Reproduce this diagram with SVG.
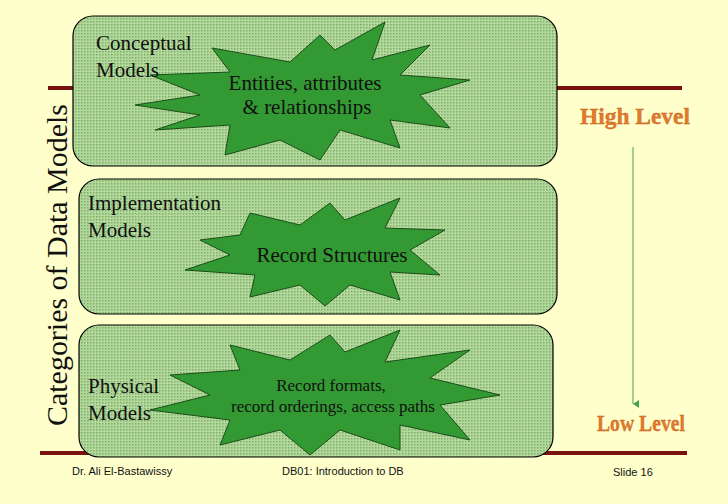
<svg xmlns="http://www.w3.org/2000/svg" width="728" height="504" viewBox="0 0 728 504">
<style>
.box{fill:#a9d393;stroke:#000;stroke-width:1.2}
.star{fill:#339a33;stroke:#1a4d1a;stroke-width:1}
.t{font-family:"Liberation Serif",serif;fill:#111}
.lv{font-family:"Liberation Serif",serif;font-size:23px;font-weight:bold;fill:#e07a30;stroke:#c05a10;stroke-width:0.3}
.ft{font-family:"Liberation Sans",sans-serif;font-size:11px;fill:#111}
</style>
<defs>
<pattern id="h" width="3" height="3" patternUnits="userSpaceOnUse"><rect width="3" height="3" fill="#b3d99c"/><rect width="1.5" height="1.5" fill="#7fae6a"/></pattern>
<marker id="a" markerWidth="8" markerHeight="8" refX="4" refY="6" orient="auto" markerUnits="userSpaceOnUse"><path d="M0,0 L8,0 L4,6 Z" fill="#4aa04a"/></marker>
</defs>
<rect width="728" height="504" fill="#ffffcc"/>
<g id="rules">
<line x1="48" y1="88" x2="682" y2="88" stroke="#7a1010" stroke-width="4"/>
<line x1="40" y1="453" x2="687" y2="453" stroke="#7a1010" stroke-width="4"/>
</g>
<text class="t" font-size="30" transform="translate(67,265) rotate(-90)" text-anchor="middle" textLength="322" lengthAdjust="spacingAndGlyphs">Categories of Data Models</text>
<g id="conceptual">
<rect class="box" x="73" y="16" width="484" height="150" rx="20" style="fill:url(#h)"/>
<polygon class="star" points="212,48 290,62 320,35 335,50 385,22 372,60 430,45 400,75 470,80 420,95 450,128 390,120 400,148 340,130 320,160 280,140 225,155 230,125 155,130 200,115 135,105 200,95 150,75 230,72"/>
<text class="t" font-size="21" x="96" y="50">Conceptual</text>
<text class="t" font-size="21" x="96" y="77">Models</text>
<text class="t" font-size="21" x="305" y="90" text-anchor="middle">Entities, attributes</text>
<text class="t" font-size="21" x="307" y="114" text-anchor="middle">&amp; relationships</text>
</g>
<g id="implementation">
<rect class="box" x="79" y="179" width="478" height="135" rx="20" style="fill:url(#h)"/>
<polygon class="star" points="250,213 300,225 330,203 345,220 400,198 385,228 445,230 410,250 440,275 390,272 400,300 350,285 325,306 300,285 250,297 255,275 185,270 230,255 200,240 240,235"/>
<text class="t" font-size="21" x="88" y="210">Implementation</text>
<text class="t" font-size="21" x="88" y="237">Models</text>
<text class="t" font-size="21" x="332" y="262" text-anchor="middle">Record Structures</text>
</g>
<g id="physical">
<rect class="box" x="79" y="325" width="474" height="132" rx="20" style="fill:url(#h)"/>
<polygon class="star" points="230,345 290,360 330,335 345,352 400,330 385,362 470,350 430,378 500,395 440,405 470,440 400,425 400,450 340,430 310,455 280,430 220,445 230,420 150,410 210,395 170,375 240,370"/>
<text class="t" font-size="21" x="88" y="393">Physical</text>
<text class="t" font-size="21" x="88" y="420">Models</text>
<text class="t" font-size="17" x="331" y="391" text-anchor="middle">Record formats,</text>
<text class="t" font-size="17" x="333" y="412" text-anchor="middle">record orderings, access paths</text>
</g>
<g id="levels">
<text class="lv" x="580" y="124" textLength="110" lengthAdjust="spacingAndGlyphs">High Level</text>
<text class="lv" x="597" y="431" textLength="88" lengthAdjust="spacingAndGlyphs">Low Level</text>
</g>
<g id="connectors">
<line x1="633" y1="147" x2="633" y2="404" stroke="#4aa04a" stroke-width="1" marker-end="url(#a)"/>
</g>
<text class="ft" x="72" y="475">Dr. Ali El-Bastawissy</text>
<text class="ft" x="282" y="475">DB01: Introduction to DB</text>
<text class="ft" x="613" y="476">Slide 16</text>
</svg>
